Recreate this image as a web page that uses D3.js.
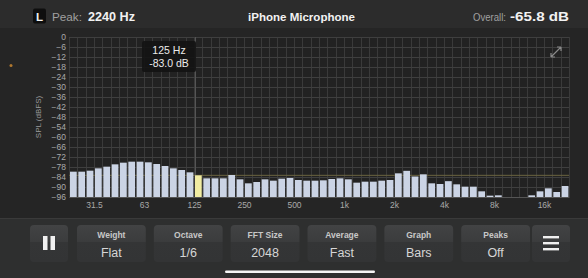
<!DOCTYPE html>
<html><head><meta charset="utf-8">
<script src="https://cdn.jsdelivr.net/npm/d3@7"></script>
<style>
html,body{margin:0;padding:0;background:#2a2a2a;}
svg{display:block;font-family:"Liberation Sans","Helvetica",Arial,sans-serif;}
</style></head>
<body>
<svg id="c" width="588" height="278"></svg>
<script>
// ---- data ----
const bandCount = 60;
const levels = [-80.8,-80.8,-80.2,-78.8,-77.8,-76.4,-75.4,-74.8,-74.8,-75.2,
  -76.2,-77.4,-78.8,-79.8,-81.2,-83.0,-84.8,-84.8,-84.8,-82.8,
  -85.4,-87.8,-87.0,-85.4,-86.2,-85.0,-84.6,-85.8,-86.2,-86.2,
  -86.0,-85.2,-84.8,-85.4,-87.4,-86.8,-86.8,-86.2,-85.8,-81.8,
  -80.3,-83.7,-82.4,-87.8,-88.2,-86.5,-88.4,-89.8,-89.8,-92.6,
  -95.2,-95.0,null,null,null,-95.0,-92.6,-90.8,-93.0,-89.4];
const tickBands = [3,9,15,21,27,33,39,45,51,57];
const tickLabels = ["31.5","63","125","250","500","1k","2k","4k","8k","16k"];
const yTicks = d3.range(0,-97,-6);
const highlightBand = 15;
const tooltipLines = ["125 Hz","-83.0 dB"];
const buttonTitles = ["Weight","Octave","FFT Size","Average","Graph","Peaks"];
const buttonValues = ["Flat","1/6","2048","Fast","Bars","Off"];

const svg = d3.select("#c");
// backgrounds
svg.append("rect").attr("x",0).attr("y",0).attr("width",588).attr("height",278).attr("fill","#2c2c2c");
svg.append("rect").attr("x",0).attr("y",28).attr("width",588).attr("height",190).attr("fill","#252525");
svg.append("rect").attr("x",0).attr("y",218).attr("width",588).attr("height",60).attr("fill","#2e2f2f");
svg.append("line").attr("x1",0).attr("x2",588).attr("y1",218.5).attr("y2",218.5).attr("stroke","#3a3a3a");

const x = d3.scaleLinear().domain([0,bandCount]).range([69,569]);
const y = d3.scaleLinear().domain([0,-96]).range([37,197]);
const plot = svg.append("g");
plot.append("rect").attr("x",x(0)).attr("y",y(0)).attr("width",x(bandCount)-x(0)).attr("height",y(-96)-y(0)).attr("fill","#222222");

// grid
plot.append("g").selectAll("line").data(d3.range(0,bandCount+1)).join("line")
  .attr("x1",d=>Math.round(x(d))+0.5).attr("x2",d=>Math.round(x(d))+0.5)
  .attr("y1",y(0)).attr("y2",y(-96)).attr("stroke","#3a3a3a").attr("stroke-width",1);
plot.append("g").selectAll("line").data(yTicks).join("line")
  .attr("x1",x(0)).attr("x2",x(bandCount))
  .attr("y1",d=>Math.round(y(d))+0.5).attr("y2",d=>Math.round(y(d))+0.5)
  .attr("stroke","#3f3f3f").attr("stroke-width",1);

// crosshair
const hv = levels[highlightBand];
plot.append("line").attr("x1",x(0)).attr("x2",x(bandCount)).attr("y1",y(hv)).attr("y2",y(hv))
  .attr("stroke","#6b6440").attr("stroke-width",1);
plot.append("line").attr("x1",x(highlightBand)+1.5).attr("x2",x(highlightBand)+1.5).attr("y1",y(0)).attr("y2",y(-96))
  .attr("stroke","#555").attr("stroke-width",1);

// bars
const pitch = x(1)-x(0);
plot.append("g").selectAll("rect").data(levels.map((v,i)=>({v,i})).filter(d=>d.v!==null)).join("rect")
  .attr("x",d=>x(d.i)+1).attr("width",pitch-1.6)
  .attr("y",d=>y(d.v)).attr("height",d=>Math.max(0,y(-96)-y(d.v)))
  .attr("fill",d=>d.i===highlightBand?"#f1eca2":"#cbd4e5");

// y axis
const yAxis = svg.append("g").attr("transform",`translate(${x(0)},0)`)
  .call(d3.axisLeft(y).tickValues(yTicks).tickSize(0).tickPadding(3).tickFormat(d=>d===0?"0":d3.format("d")(d)));
yAxis.select(".domain").remove();
yAxis.selectAll("text").attr("fill","#a9a9a9").attr("font-size","8.5px").attr("font-family","Liberation Sans, Arial, sans-serif");

// x axis
const xAxis = svg.append("g").attr("transform",`translate(0,${y(-96)})`)
  .call(d3.axisBottom(x).tickValues(tickBands).tickSize(0).tickPadding(5).tickFormat((d,i)=>tickLabels[i]));
xAxis.select(".domain").attr("stroke","#555");
xAxis.selectAll("text").attr("fill","#a9a9a9").attr("font-size","8.5px").attr("font-family","Liberation Sans, Arial, sans-serif");

// y title
svg.append("text").attr("transform","translate(41,117) rotate(-90)").attr("text-anchor","middle")
  .attr("fill","#9a9a9a").attr("font-size","8px").text("SPL (dBFS)");
svg.append("circle").attr("cx",11).attr("cy",65.5).attr("r",1.5).attr("fill","#b0782f");

// tooltip
const tt = svg.append("g");
tt.append("rect").attr("x",142).attr("y",41).attr("width",54).attr("height",31).attr("rx",2).attr("fill","#141414").attr("opacity",0.92);
tt.selectAll("text").data(tooltipLines).join("text").attr("x",169).attr("y",(d,i)=>53.5+i*13)
  .attr("text-anchor","middle").attr("fill","#ececec").attr("font-size","10.5px").text(d=>d);

// expand icon
const ic = svg.append("g").attr("stroke","#8a8a8a").attr("stroke-width",1.2).attr("fill","none");
ic.append("path").attr("d","M551,57 L561,47 M551,57 L551,53 M551,57 L555,57 M561,47 L557,47 M561,47 L561,51");

// header
svg.append("rect").attr("x",33).attr("y",8.5).attr("width",13).attr("height",15).attr("rx",2).attr("fill","#0e0e0e");
svg.append("text").attr("x",39.5).attr("y",21).attr("text-anchor","middle").attr("fill","#f0f0f0").attr("font-size","11.5px").attr("font-weight","bold").text("L");
svg.append("text").attr("x",52).attr("y",21).attr("fill","#a0a0a0").attr("font-size","11.5px").attr("textLength",30).attr("lengthAdjust","spacingAndGlyphs").text("Peak:");
svg.append("text").attr("x",88).attr("y",21).attr("fill","#f2f2f2").attr("font-size","12.5px").attr("font-weight","bold").attr("textLength",47).attr("lengthAdjust","spacingAndGlyphs").text("2240 Hz");
svg.append("text").attr("x",248).attr("y",21).attr("fill","#f2f2f2").attr("font-size","11.5px").attr("font-weight","bold").attr("textLength",107).attr("lengthAdjust","spacingAndGlyphs").text("iPhone Microphone");
svg.append("text").attr("x",473).attr("y",21).attr("fill","#a0a0a0").attr("font-size","11px").attr("textLength",33).attr("lengthAdjust","spacingAndGlyphs").text("Overall:");
svg.append("text").attr("x",510).attr("y",21).attr("fill","#f2f2f2").attr("font-size","13px").attr("font-weight","bold").attr("textLength",59).attr("lengthAdjust","spacingAndGlyphs").text("-65.8 dB");

// toolbar
const defs = svg.append("defs");
const g1 = defs.append("linearGradient").attr("id","bg").attr("x1",0).attr("x2",0).attr("y1",0).attr("y2",1);
g1.append("stop").attr("offset","0").attr("stop-color","#424344");
g1.append("stop").attr("offset","0.45").attr("stop-color","#3b3c3d");
g1.append("stop").attr("offset","0.46").attr("stop-color","#343536");
g1.append("stop").attr("offset","1").attr("stop-color","#333435");
svg.append("rect").attr("x",30).attr("y",225).attr("width",38).attr("height",37).attr("rx",4).attr("fill","url(#bg)");
svg.append("rect").attr("x",43).attr("y",236).attr("width",4.5).attr("height",14).attr("fill","#f0f0f0");
svg.append("rect").attr("x",50.5).attr("y",236).attr("width",4.5).attr("height",14).attr("fill","#f0f0f0");
const bx = d3.scaleBand().domain(buttonTitles).range([77,530]).paddingInner(0.105).paddingOuter(0);
const btn = svg.append("g").selectAll("g").data(buttonTitles).join("g").attr("transform",d=>`translate(${bx(d)},225)`);
btn.append("rect").attr("width",bx.bandwidth()).attr("height",37).attr("rx",4).attr("fill","url(#bg)");
btn.append("text").attr("x",bx.bandwidth()/2).attr("y",12.5).attr("text-anchor","middle").attr("fill","#c8c8c8").attr("font-size","8.5px").attr("font-weight","bold").text(d=>d);
btn.append("text").attr("x",bx.bandwidth()/2).attr("y",31.5).attr("text-anchor","middle").attr("fill","#d6d6d6").attr("font-size","12.5px").text((d,i)=>buttonValues[i]);
svg.append("rect").attr("x",532).attr("y",225).attr("width",38).attr("height",37).attr("rx",4).attr("fill","url(#bg)");
[237,243,249].forEach(v=>svg.append("rect").attr("x",543).attr("y",v-1).attr("width",16).attr("height",2.4).attr("fill","#f0f0f0"));
svg.append("rect").attr("x",225).attr("y",270.5).attr("width",150).attr("height",2.5).attr("rx",1.2).attr("fill","#f5f5f5");
</script>
</body></html>
